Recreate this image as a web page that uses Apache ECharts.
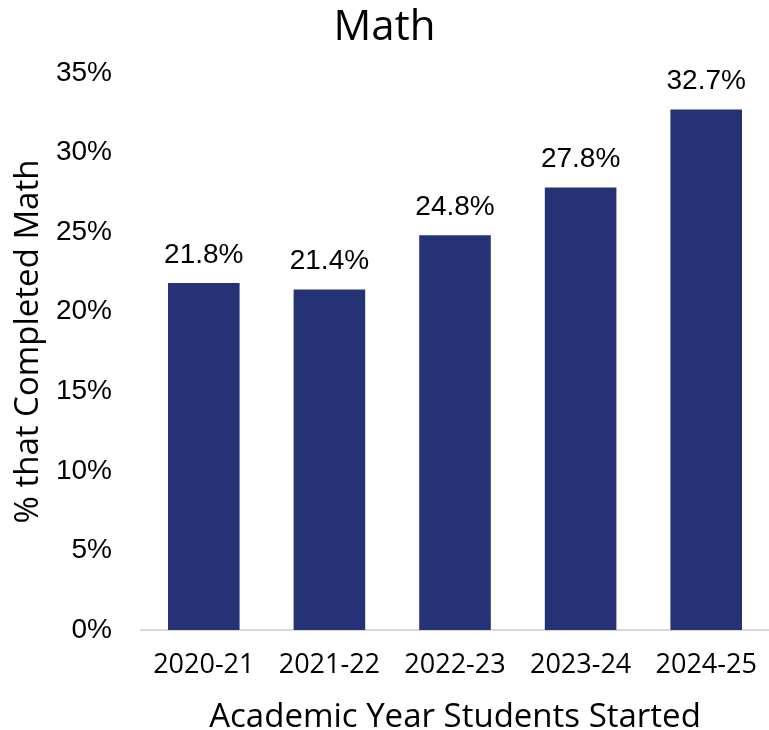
<!DOCTYPE html>
<html><head><meta charset="utf-8">
<script src="https://cdn.jsdelivr.net/npm/echarts@6/dist/echarts.min.js"></script>
<style>html,body{margin:0;padding:0;background:#fff}#c{width:769px;height:730px}</style>
</head><body><div id="c"></div>
<script>
const categories = ['2020-21','2021-22','2022-23','2023-24','2024-25'];
const values = [21.8, 21.4, 24.8, 27.8, 32.7];
const yTicks = [0,5,10,15,20,25,30,35];
const chart = echarts.init(document.getElementById('c'));
const ff = '"Open Sans", Lato, sans-serif';
const nf = '"Liberation Sans", Arial, sans-serif';
chart.setOption({
  animation:false,
  title:{text:'Math',left:'center',top:2,textStyle:{fontFamily:ff,fontSize:42,fontWeight:'normal',color:'#000'}},
  grid:{left:141,right:0,top:73,bottom:100,outerBoundsMode:'none',containLabel:false},
  xAxis:{type:'category',data:categories,
    axisLine:{lineStyle:{color:'#d9d9d9',width:2}},axisTick:{show:false},
    axisLabel:{fontFamily:ff,fontSize:27,color:'#000',margin:22,interval:0,hideOverlap:false},
    name:'Academic Year Students Started',nameLocation:'middle',nameGap:71,
    nameTextStyle:{fontFamily:ff,fontSize:33,color:'#000'}},
  yAxis:{type:'value',min:0,max:35,interval:5,
    splitLine:{show:false},axisLine:{show:false},axisTick:{show:false},
    axisLabel:{fontFamily:nf,fontSize:28,color:'#000',margin:29,formatter:v=>yTicks.includes(v)?v+'%':''},
    name:'% that Completed Math',nameLocation:'middle',nameGap:94,
    nameTextStyle:{fontFamily:ff,fontSize:33,color:'#000',padding:[0,0,0,20]}},
  series:[{type:'bar',data:values,barWidth:'57%',itemStyle:{color:'#253376'},
    label:{show:true,position:'top',distance:14,formatter:p=>p.value.toFixed(1)+'%',
      fontFamily:nf,fontSize:28,color:'#000'}}]
});
</script></body></html>
